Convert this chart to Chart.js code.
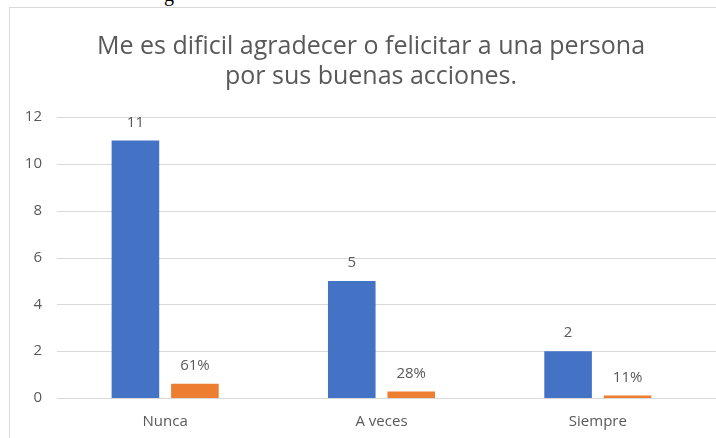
<!DOCTYPE html>
<html>
<head>
<meta charset="utf-8">
<script src="https://cdn.jsdelivr.net/npm/chart.js@4/dist/chart.umd.min.js"></script>
<style>
  html, body { margin: 0; padding: 0; background: #fff; overflow: hidden; }
  body { width: 716px; height: 438px; position: relative; }
  #doc-text { position: absolute; left: 164px; top: -17px; font: 20px "Liberation Serif", serif; color: #000; }
  #frame { position: absolute; left: 9px; top: 7px; width: 707px; height: 431px;
           border-left: 1px solid #d9d9d9; border-top: 1px solid #d9d9d9; }
  #title { position: absolute; left: 71px; width: 600px; top: 29px; text-align: center;
           font: 25px/30px 'Open Sans', 'Noto Sans', sans-serif; color: #595959; white-space: nowrap; }
</style>
</head>
<body>
<span id="doc-text">g</span>
<div id="frame"><canvas id="chart"></canvas></div>
<div id="title"></div>
<script>
const categories = ["Nunca", "A veces", "Siempre"];
const counts = [11, 5, 2];
const shares = [0.61, 0.28, 0.11];
const shareLabels = ["61%", "28%", "11%"];
const yTicks = [0, 2, 4, 6, 8, 10, 12];
const titleLines = ["Me es dificil agradecer o felicitar a una persona", "por sus buenas acciones."];

const textGray = "#595959";
const gridGray = "#d9d9d9";
const fontFam = "'Open Sans', 'Noto Sans', sans-serif";

document.getElementById("title").innerHTML = titleLines.join("<br>");

// gridlines run past the plot area to the edge of the frame
const wideGrid = {
  id: "wideGrid",
  beforeDatasetsDraw(chart) {
    const { ctx, chartArea, scales } = chart;
    ctx.save();
    ctx.strokeStyle = gridGray;
    ctx.lineWidth = 1;
    yTicks.forEach((v) => {
      const y = Math.round(scales.y.getPixelForValue(v)) + 0.5;
      ctx.beginPath();
      ctx.moveTo(chartArea.left, y);
      ctx.lineTo(chart.width, y);
      ctx.stroke();
    });
    ctx.restore();
  }
};

// draws the value above each bar (no datalabels plugin available offline)
const barLabels = {
  id: "barLabels",
  afterDatasetsDraw(chart) {
    const ctx = chart.ctx;
    ctx.save();
    ctx.font = `15px ${fontFam}`;
    ctx.fillStyle = textGray;
    ctx.textAlign = "center";
    ctx.textBaseline = "middle";
    chart.data.datasets.forEach((ds, di) => {
      chart.getDatasetMeta(di).data.forEach((bar, i) => {
        const txt = ds.labelsText ? ds.labelsText[i] : String(ds.data[i]);
        ctx.fillText(txt, bar.x, bar.y - 18);
      });
    });
    ctx.restore();
  }
};

new Chart(document.getElementById("chart"), {
  type: "bar",
  data: {
    labels: categories,
    datasets: [
      { label: "Cantidad", data: counts, backgroundColor: "#4472C4" },
      { label: "Porcentaje", data: shares, labelsText: shareLabels, backgroundColor: "#ED7D31" }
    ]
  },
  options: {
    responsive: true,
    maintainAspectRatio: false,
    animation: false,
    categoryPercentage: 0.55,
    barPercentage: 0.8,
    layout: { padding: { left: 0, right: 11, top: 109, bottom: 0 } },
    plugins: {
      legend: { display: false },
      tooltip: { enabled: false },
      title: { display: false }
    },
    scales: {
      x: {
        afterFit: (s) => { s.height = 41; },
        grid: { display: false, drawTicks: false },
        border: { display: false },
        ticks: { color: textGray, font: { family: fontFam, size: 15 }, padding: 15 }
      },
      y: {
        min: 0,
        max: 12,
        afterFit: (s) => { s.width = 47; },
        afterBuildTicks: (s) => { s.ticks = yTicks.map((v) => ({ value: v })); },
        grid: { display: false, drawTicks: false },
        border: { display: false },
        ticks: { color: textGray, font: { family: fontFam, size: 15 }, padding: 15 }
      }
    }
  },
  plugins: [wideGrid, barLabels]
});
</script>
</body>
</html>
